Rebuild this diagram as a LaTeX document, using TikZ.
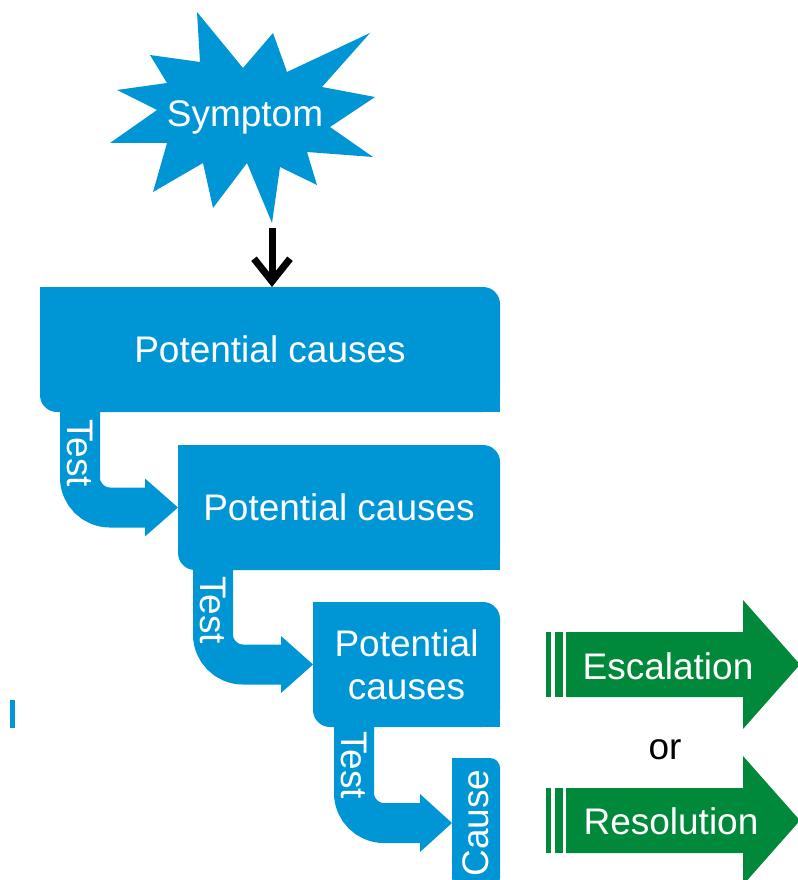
\documentclass[tikz,border=0pt]{standalone}
\usepackage{fontspec}
\setmainfont{Liberation Sans}
\usepackage{tikz}
\usetikzlibrary{arrows.meta}
\usetikzlibrary{positioning,calc}

\definecolor{causeBlue}{RGB}{0,150,214}
\definecolor{actionGreen}{RGB}{0,137,58}

\begin{document}
\begin{tikzpicture}[
  x=0.75pt, y=-0.75pt,
  bigtext/.style={font=\fontsize{27.75}{32}\selectfont},
  testlabel/.style={bigtext, text=white, rotate=-90, inner sep=0pt}
]
	\tikzstyle{causes} = [rectangle, rounded corners=12.75pt, minimum height=93.75pt, inner sep=0pt, outer sep=0pt, align=center, fill=causeBlue, text=white, bigtext]
	\tikzstyle{testBar} = [draw=causeBlue, line width=30pt, rounded corners=22.5pt]
	\tikzstyle{testHead} = [fill=causeBlue]
	\tikzstyle{action} = [fill=actionGreen]

	\useasboundingbox (0,0) rectangle (798,880);

	% symptom star
	\fill[causeBlue] (197,12) -- (243,68) -- (273,33) -- (287,72) -- (370,33) -- (322,87) -- (375,97) -- (330,127) -- (373,157) -- (307,152) -- (317,185) -- (280,167) -- (272,223) -- (247,163) -- (213,208) -- (203,163) -- (153,192) -- (167,143) -- (110,143) -- (157,110) -- (117,90) -- (167,83) -- (150,55) -- (200,62) -- cycle;
	\node (symptom) [bigtext, text=white] at (245,117) {Symptom};
	\coordinate (symptomTip) at (272,228);

	% potential causes boxes
	\node (causes1) [causes, minimum width=345pt, anchor=north west] at (40,287) {Potential causes};
	\node (causes2) [causes, minimum width=241.5pt, below=24.75pt of causes1.south east, anchor=north east] {Potential causes};
	\node (causes3) [causes, minimum width=140.25pt, below=24pt of causes2.south east, anchor=north east] {Potential\\causes};
	\node (cause) [causes, rounded corners=7.5pt, minimum width=36pt, minimum height=97.5pt, below=23.25pt of causes3.south east, anchor=north east] {\rotatebox{90}{Cause}};

	% square corners
	\foreach \boxname in {causes1,causes2,causes3} {
		\fill[causeBlue] (\boxname.north west) rectangle ++(13pt,-13pt);
		\fill[causeBlue] (\boxname.south east) rectangle ++(-13pt,13pt);
	}
	\fill[causeBlue] (cause.north west) rectangle ++(8pt,-8pt);

	\draw[-{Straight Barb[length=17pt,width=27pt]}, line width=5.25pt] (symptomTip) -- (symptomTip |- causes1.north);

	% test arrows
	\draw[testBar] ([xshift=30pt,yshift=1pt]causes1.south west) |- ([xshift=-24pt]causes2.west);
	\fill[testHead] (causes2.west) -- ++(-24.75pt,21.75pt) -- ++(0,-43.5pt) -- cycle;
	\node (test1) [testlabel] at ([xshift=30pt,yshift=-30.75pt]causes1.south west) {Test};

	\draw[testBar] ([xshift=26.25pt,yshift=1pt]causes2.south west) |- ([xshift=-23pt]causes3.west);
	\fill[testHead] (causes3.west) -- ++(-24pt,21.4pt) -- ++(0,-42.8pt) -- cycle;
	\node (test2) [testlabel] at ([xshift=26.25pt,yshift=-30pt]causes2.south west) {Test};

	\draw[testBar] ([xshift=30.75pt,yshift=1pt]causes3.south west) |- ([xshift=-23pt]cause.west);
	\fill[testHead] (cause.west) -- ++(-24pt,21.75pt) -- ++(0,-43.5pt) -- cycle;
	\node (test3) [testlabel] at ([xshift=30.75pt,yshift=-28.5pt]causes3.south west) {Test};

	% escalation / resolution
	\fill[action] (546,632) rectangle (551,697);
	\fill[action] (555,632) rectangle (563,697);
	\fill[action] (566,632) -- (743,632) -- (743,600) -- (800,664.5) -- (743,729) -- (743,697) -- (566,697) -- cycle;
	\node (escalation) [bigtext, text=white] at (668,666) {Escalation};

	\node (or) [bigtext] at (665,750) {or};

	\fill[action] (546,788) rectangle (551,853);
	\fill[action] (555,788) rectangle (563,853);
	\fill[action] (566,788) -- (743,788) -- (743,756) -- (800,820.5) -- (743,885) -- (743,853) -- (566,853) -- cycle;
	\node (resolution) [bigtext, text=white] at (671,821) {Resolution};

	\fill[causeBlue] (10,700) rectangle (15,728);

\end{tikzpicture}
\end{document}
